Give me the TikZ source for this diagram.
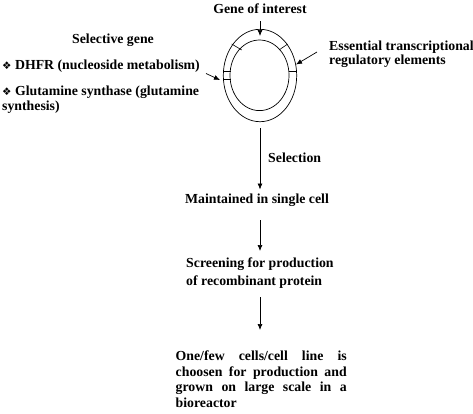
\documentclass[tikz,border=0pt]{standalone}
\usepackage{fontspec}
\setmainfont{Liberation Serif}
\newfontfamily\dejavu{DejaVu Sans}
\usetikzlibrary{arrows.meta,shapes.geometric}
\newcommand{\bulletdiamond}{{\dejavu\fontsize{10.5}{10}\selectfont ❖}}
\begin{document}
\begin{tikzpicture}[x=1pt,y=-1pt,
  txt/.style={font=\fontsize{13.8}{17}\selectfont\bfseries, inner sep=0pt},
  conn/.style={line width=0.7pt, -{Latex[length=6pt,width=5pt]}},
  ring/.style={draw, ellipse, line width=0.7pt, inner sep=0pt},
  tick/.style={line width=0.6pt}]
\useasboundingbox (0,0) rectangle (473,413);
% plasmid
\node[ring, minimum width=73.4pt, minimum height=92.4pt] (outer) at (260,75.5) {};
\node[ring, minimum width=59pt, minimum height=70.6pt] (inner) at (259.5,75.3) {};
\draw[tick] (231.7,44) -- (241.7,50);
\draw[tick] (279,50) -- (287.7,44);
\draw[tick] (224.3,71.7) -- (231.2,71.7);
\draw[tick] (224.3,79) -- (231.2,79);
\draw[tick] (288.8,71.7) -- (295.7,71.7);
% labels
\node[txt] (goi) at (260,9) {Gene of interest};
\coordinate (goistart) at (260,21);
\coordinate (goitip) at (260,36);
\draw[conn] (goistart) -- (goitip);
\node[txt] (selg) at (113,40) {Selective gene};
\node[txt, anchor=west] (dhfr) at (2,65.8) {\bulletdiamond{} DHFR (nucleoside metabolism)};
\node[txt, anchor=north west, align=left, font=\fontsize{13.8}{14.5}\selectfont\bfseries] (gs) at (2,86) {\bulletdiamond{} Glutamine synthase (glutamine\\synthesis)};
\coordinate (leftstart) at (206,73.5);
\coordinate (lefttip) at (220,80);
\draw[conn] (leftstart) -- (lefttip);
\node[txt, anchor=north west, align=left, font=\fontsize{13.8}{14}\selectfont\bfseries] (etr) at (329,40.5) {Essential transcriptional\\regulatory elements};
\coordinate (rightstart) at (317,52);
\coordinate (righttip) at (296,64.5);
\draw[conn] (rightstart) -- (righttip);
% flow
\node[txt, anchor=west] (selection) at (268,158) {Selection};
\node[txt] (maint) at (257,200) {Maintained in single cell};
\coordinate (a1s) at (260,128);
\coordinate (a1e) at (260,189.5);
\draw[conn] (a1s) -- (a1e);
\node[txt, anchor=north west, align=left, font=\fontsize{13.8}{17.7}\selectfont\bfseries] (screen) at (186,258) {Screening for production\\of recombinant protein};
\coordinate (a2s) at (260,220);
\coordinate (a2e) at (260,251);
\draw[conn] (a2s) -- (a2e);
\coordinate (a3s) at (260,297);
\coordinate (a3e) at (260,330);
\draw[conn] (a3s) -- (a3e);
\node[txt, anchor=north west, align=left, font=\fontsize{13.8}{15.6}\selectfont\bfseries] (final) at (175.5,350.5)
  {\makebox[171pt][s]{One/few cells/cell line is}\\
   \makebox[171pt][s]{choosen for production and}\\
   \makebox[171pt][s]{grown on large scale in a}\\
   bioreactor};
\end{tikzpicture}
\end{document}
